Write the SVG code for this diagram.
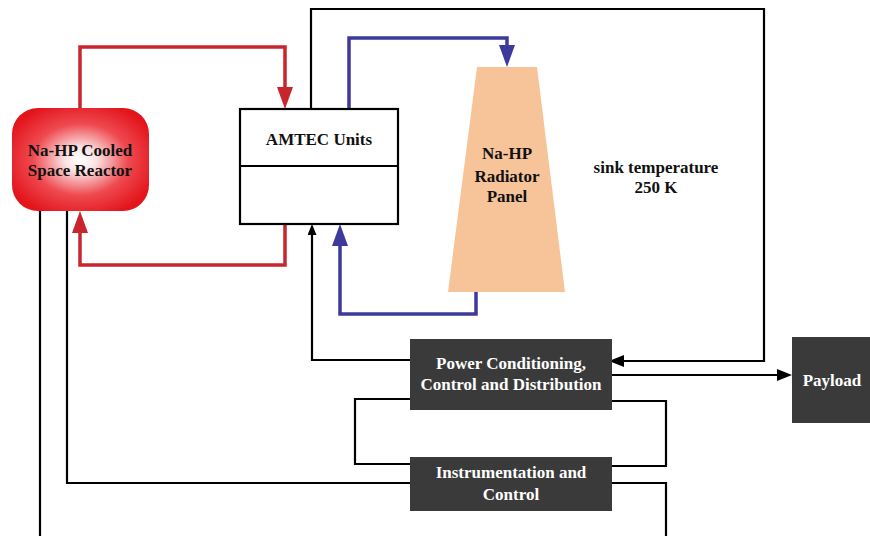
<svg xmlns="http://www.w3.org/2000/svg" width="870" height="536" viewBox="0 0 870 536">
<style>
.t{font-family:"Liberation Serif","Times New Roman",serif;font-weight:bold;text-anchor:middle}
.dk{fill:#fff;font-size:17px}
.bk{fill:#111;font-size:17px}
.red{fill:none;stroke:#c9252c;stroke-width:3.5}
.blue{fill:none;stroke:#3d3a9c;stroke-width:3.5}
.blk{fill:none;stroke:#000;stroke-width:2.2}
.box{fill:#3a3a3a}
</style>
<defs>
<radialGradient id="rg" cx="50%" cy="50%" r="58%">
<stop offset="0" stop-color="#ffffff"/>
<stop offset="0.2" stop-color="#fbe3e4"/>
<stop offset="0.6" stop-color="#ee4a50"/>
<stop offset="1" stop-color="#e3141c"/>
</radialGradient>
<marker id="ar" markerUnits="userSpaceOnUse" markerWidth="22" markerHeight="16" viewBox="0 0 22 16" refX="10" refY="8" orient="auto"><path d="M0,0 L22,8 L0,16 z" fill="#c9252c"/></marker>
<marker id="ab" markerUnits="userSpaceOnUse" markerWidth="22" markerHeight="16" viewBox="0 0 22 16" refX="10" refY="8" orient="auto"><path d="M0,0 L22,8 L0,16 z" fill="#3d3a9c"/></marker>
<marker id="ak" markerUnits="userSpaceOnUse" markerWidth="11" markerHeight="9" viewBox="0 0 11 9" refX="5" refY="4.5" orient="auto"><path d="M0,0 L11,4.5 L0,9 z" fill="#000"/></marker>
<marker id="ak2" markerUnits="userSpaceOnUse" markerWidth="15" markerHeight="12" viewBox="0 0 15 12" refX="6" refY="6" orient="auto"><path d="M0,0 L15,6 L0,12 z" fill="#000"/></marker>
</defs>
<rect width="870" height="536" fill="#fff"/>
<g id="connectors">
<path class="red" d="M80,108 V47 H285 V97" marker-end="url(#ar)"/>
<path class="red" d="M285,224 V265 H80 V223" marker-end="url(#ar)"/>
<path class="blue" d="M349,109 V38 H507 V55" marker-end="url(#ab)"/>
<path class="blue" d="M476,292 V314 H340 V236" marker-end="url(#ab)"/>
<path class="blk" d="M311,109 V9 H764 V361 H618" marker-end="url(#ak2)"/>
<path class="blk" d="M410,360 H312 V230" marker-end="url(#ak)"/>
<path class="blk" d="M612,375 H783" stroke-width="3.2" marker-end="url(#ak2)"/>
<path class="blk" d="M410,399 H355 V464 H410"/>
<path class="blk" d="M612,401 H666 V466 H612"/>
<path class="blk" d="M67,210 V483 H410"/>
<path class="blk" d="M612,483 H666 V536"/>
<path class="blk" d="M40,210 V536"/>
</g>
<g id="reactor">
<rect x="12" y="108" width="137" height="103" rx="26" ry="26" fill="url(#rg)"/>
<text class="t bk" x="80" y="156">Na-HP Cooled</text>
<text class="t bk" x="80" y="176">Space Reactor</text>
</g>
<g id="amtec">
<rect x="240" y="109" width="158" height="115" fill="#fff" stroke="#000" stroke-width="2.2"/>
<line x1="240" y1="166" x2="398" y2="166" stroke="#000" stroke-width="2.2"/>
<text class="t bk" x="319" y="145">AMTEC Units</text>
</g>
<g id="radiator">
<polygon points="477,67 537,67 565,292 448,292" fill="#f7c49a"/>
<text class="t bk" x="507" y="159">Na-HP</text>
<text class="t bk" x="507" y="182">Radiator</text>
<text class="t bk" x="507" y="202">Panel</text>
</g>
<g id="sink">
<text class="t bk" x="656" y="173">sink temperature</text>
<text class="t bk" x="656" y="193">250 K</text>
</g>
<g id="pcd">
<rect class="box" x="410" y="339" width="202" height="71"/>
<text class="t dk" x="511" y="369">Power Conditioning,</text>
<text class="t dk" x="511" y="390">Control and Distribution</text>
</g>
<g id="instr">
<rect class="box" x="410" y="457" width="202" height="54"/>
<text class="t dk" x="511" y="478">Instrumentation and</text>
<text class="t dk" x="511" y="500">Control</text>
</g>
<g id="payload">
<rect class="box" x="792" y="337" width="78" height="86"/>
<text class="t dk" x="832" y="386">Payload</text>
</g>
</svg>
